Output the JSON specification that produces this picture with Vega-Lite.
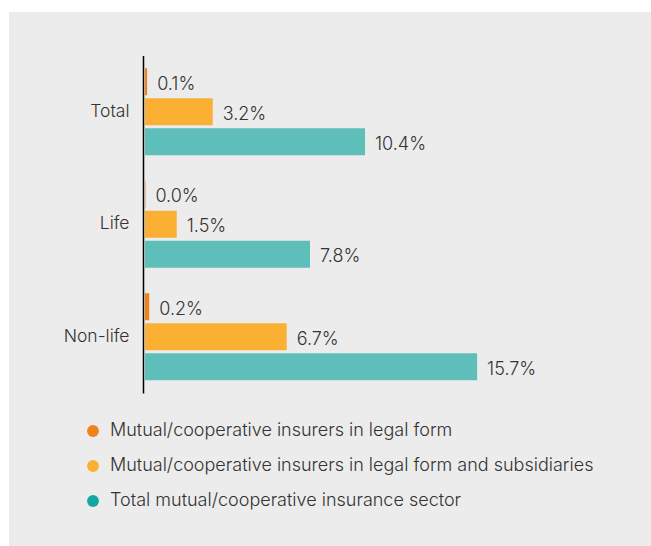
{
  "$schema": "https://vega.github.io/schema/vega-lite/v6.json",
  "width": 642,
  "height": 534,
  "autosize": {"type": "none"},
  "padding": {"left": 9, "top": 12, "right": 0, "bottom": 0},
  "background": "white",
  "config": {"view": {"fill": "#ececec", "stroke": null}, "font": "Inter"},
  "data": {
    "values": [
      {"segment": "Total", "series": "Mutual/cooperative insurers in legal form", "value": 0.1, "label": "0.1%"},
      {"segment": "Total", "series": "Mutual/cooperative insurers in legal form and subsidiaries", "value": 3.2, "label": "3.2%"},
      {"segment": "Total", "series": "Total mutual/cooperative insurance sector", "value": 10.4, "label": "10.4%"},
      {"segment": "Life", "series": "Mutual/cooperative insurers in legal form", "value": 0.02, "label": "0.0%"},
      {"segment": "Life", "series": "Mutual/cooperative insurers in legal form and subsidiaries", "value": 1.5, "label": "1.5%"},
      {"segment": "Life", "series": "Total mutual/cooperative insurance sector", "value": 7.8, "label": "7.8%"},
      {"segment": "Non-life", "series": "Mutual/cooperative insurers in legal form", "value": 0.2, "label": "0.2%"},
      {"segment": "Non-life", "series": "Mutual/cooperative insurers in legal form and subsidiaries", "value": 6.7, "label": "6.7%"},
      {"segment": "Non-life", "series": "Total mutual/cooperative insurance sector", "value": 15.7, "label": "15.7%"}
    ]
  },
  "encoding": {
    "y": {
      "field": "segment", "type": "nominal", "sort": ["Total", "Life", "Non-life"],
      "scale": {"range": [43.5, 381], "paddingInner": 0.2, "paddingOuter": 0.1},
      "axis": {"title": null, "orient": "left", "offset": -134, "ticks": false, "domainColor": "#000", "domainWidth": 1.5, "labelFontSize": 17.5, "labelFontWeight": 300, "labelColor": "#333", "labelPadding": 14, "labelFont": "Inter"}
    },
    "yOffset": {
      "field": "series", "type": "nominal",
      "sort": ["Mutual/cooperative insurers in legal form", "Mutual/cooperative insurers in legal form and subsidiaries", "Total mutual/cooperative insurance sector"],
      "scale": {"paddingInner": 0.1, "paddingOuter": 0.05}
    },
    "x": {"field": "value", "type": "quantitative", "scale": {"domain": [-6.43, 23.92], "nice": false, "zero": false}, "axis": null}
  },
  "layer": [
    {
      "mark": {"type": "bar"},
      "encoding": {
        "x2": {"datum": 0},
        "opacity": {
          "condition": {"test": "datum.series === 'Total mutual/cooperative insurance sector'", "value": 0.65},
          "value": 1
        },
        "color": {
          "field": "series", "type": "nominal",
          "sort": ["Mutual/cooperative insurers in legal form", "Mutual/cooperative insurers in legal form and subsidiaries", "Total mutual/cooperative insurance sector"],
          "scale": {"range": ["#f0821c", "#fbb034", "#12a79f"]},
          "legend": {
            "orient": "none", "legendX": 75, "legendY": 410, "title": null,
            "symbolType": "circle", "symbolSize": 140, "symbolStrokeWidth": 0, "symbolOpacity": 1,
            "labelFontSize": 18, "labelFontWeight": 300, "labelColor": "#333", "labelFont": "Inter", "labelLimit": 600,
            "rowPadding": 17, "labelOffset": 8, "padding": 0
          }
        }
      }
    },
    {
      "mark": {"type": "text", "align": "left", "baseline": "middle", "dx": 10, "dy": 3, "fontSize": 18, "fontWeight": 300, "color": "#333"},
      "encoding": {"text": {"field": "label"}}
    }
  ]
}
